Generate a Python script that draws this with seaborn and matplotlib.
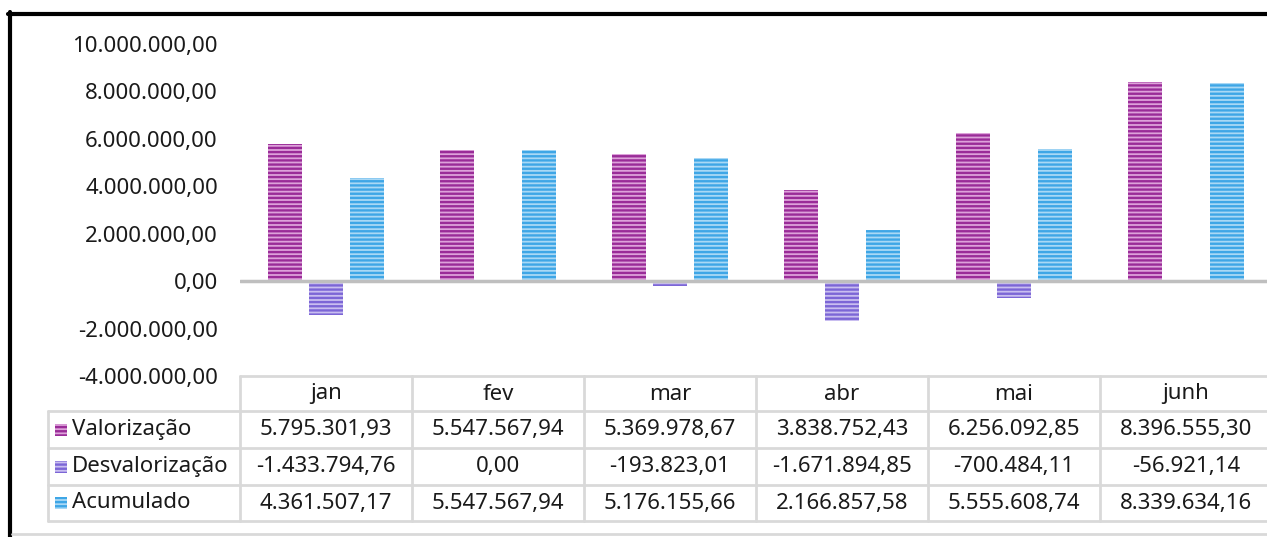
import pandas as pd
import matplotlib.pyplot as plt
import seaborn as sns
from matplotlib.patches import Rectangle
from matplotlib.ticker import FuncFormatter

# Chart data
months = ['jan', 'fev', 'mar', 'abr', 'mai', 'junh']
series = ['Valorização', 'Desvalorização', 'Acumulado']
valorizacao = [5795301.93, 5547567.94, 5369978.67, 3838752.43, 6256092.85, 8396555.30]
desvalorizacao = [-1433794.76, 0.00, -193823.01, -1671894.85, -700484.11, -56921.14]
acumulado = [4361507.17, 5547567.94, 5176155.66, 2166857.58, 5555608.74, 8339634.16]

# (stripe colour, background colour) per series
stripe_colors = ['#9A2C98', '#7C66D6', '#3EA6E6']
fill_colors = ['#DDA2DA', '#C9BEF0', '#A9D8F5']

df = pd.DataFrame({
    'mes': months * 3,
    'serie': [s for s in series for _ in months],
    'valor': valorizacao + desvalorizacao + acumulado,
})


def br_fmt(v, pos=None):
    s = f"{v:,.2f}"
    return s.replace(',', 'X').replace('.', ',').replace('X', '.')


sns.set_theme(style="white")
plt.rcParams['font.family'] = ['Noto Sans', 'DejaVu Sans']
plt.rcParams['hatch.linewidth'] = 1.7

W, H = 1267, 537
fig = plt.figure(figsize=(W / 100, H / 100), dpi=100)

# plot area in pixel terms
x0, y_top, y_bot, cw = 240, 44, 376, 172
ax = fig.add_axes([x0 / W, 1 - y_bot / H, 6 * cw / W, (y_bot - y_top) / H])

sns.barplot(data=df, x='mes', y='valor', hue='serie', order=months, hue_order=series,
            width=0.714, gap=0.16, legend=False, ax=ax, errorbar=None)

for cont, sc, fc in zip(ax.containers, stripe_colors, fill_colors):
    for bar in cont:
        bar.set_facecolor(fc)
        bar.set_edgecolor(sc)
        bar.set_hatch('----')
        bar.set_linewidth(0)

ax.axhline(0, color='#BFBFBF', lw=2.5, zorder=5)
ax.set_ylim(-4000000, 10000000)
ax.set_xlim(-0.5, 5.5)
ax.set_yticks(range(-4000000, 10000001, 2000000))
ax.yaxis.set_major_formatter(FuncFormatter(br_fmt))
ax.tick_params(axis='y', length=0, pad=16, labelsize=16, labelcolor='#1a1a1a')
ax.tick_params(axis='x', length=0, labelbottom=False)
ax.set_xlabel('')
ax.set_ylabel('')
for sp in ax.spines.values():
    sp.set_visible(False)

# overlay in pixel coordinates for the data table and frame
ov = fig.add_axes([0, 0, 1, 1], zorder=10)
ov.set_xlim(0, W)
ov.set_ylim(H, 0)
ov.axis('off')
ov.patch.set_alpha(0)

grid = '#D9D9D9'
row_y = [376, 411, 448, 485, 521]
ov.plot([x0, W], [row_y[0]] * 2, color=grid, lw=2)
for y in row_y[1:]:
    ov.plot([48, W], [y, y], color=grid, lw=2)
ov.plot([48, 48], [411, 521], color=grid, lw=2)
for j in range(6):
    ov.plot([x0 + j * cw] * 2, [376, 521], color=grid, lw=2)

for j, m in enumerate(months):
    ov.text(x0 + (j + 0.5) * cw, 394, m, ha='center', va='center', fontsize=16, color='#1a1a1a')

rows = [valorizacao, desvalorizacao, acumulado]
for i, (name, vals) in enumerate(zip(series, rows)):
    yc = (row_y[i + 1] + row_y[i + 2]) / 2
    ov.add_patch(Rectangle((55, yc - 6), 12, 12, facecolor=fill_colors[i],
                           edgecolor=stripe_colors[i], hatch='----', lw=0))
    ov.text(72, yc, name, ha='left', va='center', fontsize=16, color='#1a1a1a')
    for j, v in enumerate(vals):
        ov.text(x0 + (j + 0.5) * cw, yc, br_fmt(v), ha='center', va='center',
                fontsize=16, color='#1a1a1a')

# chart frame
ov.plot([9.5, 9.5], [12, H], color='black', lw=3)
ov.plot([8, W], [13.5, 13.5], color='black', lw=3)
ov.plot([12, W], [534, 534], color='#D9D9D9', lw=2)

fig.savefig('out.png', dpi=100)
